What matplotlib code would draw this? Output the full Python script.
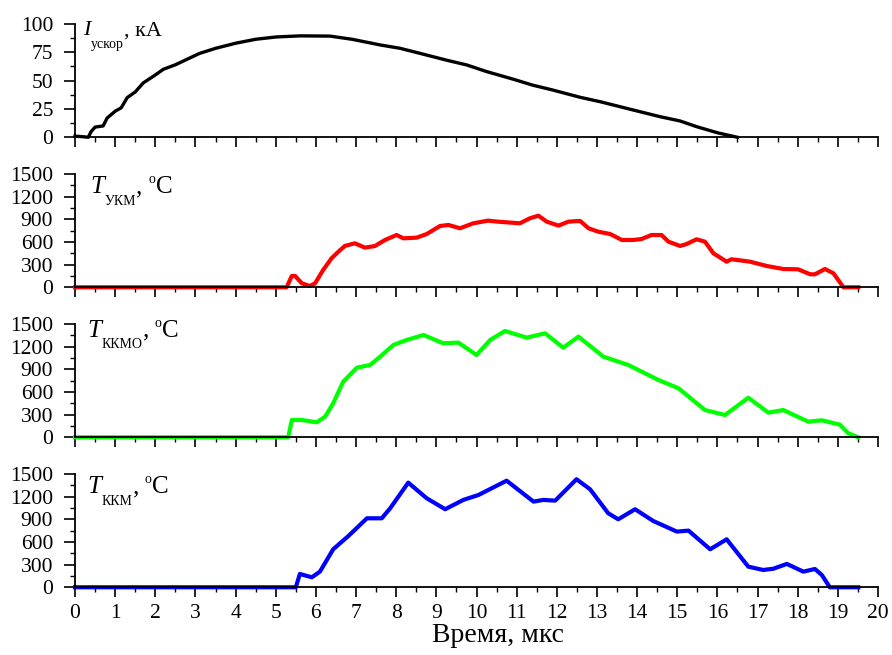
import matplotlib.pyplot as plt
from matplotlib.ticker import MultipleLocator

plt.rcParams['font.family'] = 'Liberation Serif'

# accelerating current, kA
t_I = [0, 0.2, 0.33, 0.4, 0.5, 0.7, 0.8, 1.0, 1.15, 1.3, 1.5, 1.7, 2.0, 2.2, 2.5, 2.8,
       3.1, 3.5, 4.0, 4.5, 5.0, 5.6, 6.35, 6.9, 7.6, 8.1, 8.6, 9.26, 9.76, 10.25, 10.92,
       11.4, 11.9, 12.58, 13.08, 13.9, 14.57, 15.07, 15.48, 16.0, 16.5]
I_acc = [1, 0.5, 0, 5, 9, 10, 17, 23, 26, 35, 40, 48, 55, 60, 64, 69,
         74, 78.5, 83, 86.5, 88.5, 89.5, 89.3, 86.5, 81.5, 78.5, 74, 68, 63.8, 58, 51.2,
         46, 41.7, 35.3, 31.4, 24.1, 18.2, 14.4, 9.4, 4, 0]

# T UKM
t_U = [0, 5.27, 5.40, 5.48, 5.65, 5.85, 5.98, 6.18, 6.39, 6.56, 6.72, 6.97, 7.22, 7.47,
       7.72, 8.01, 8.18, 8.51, 8.76, 9.09, 9.3, 9.59, 9.92, 10.29, 10.5, 11.08, 11.33,
       11.54, 11.75, 12.04, 12.29, 12.58, 12.79, 13.03, 13.33, 13.62, 13.9, 14.11, 14.36,
       14.61, 14.78, 15.07, 15.23, 15.48, 15.69, 15.9, 16.23, 16.35, 16.6, 16.81, 17.23,
       17.64, 18.01, 18.31, 18.43, 18.68, 18.89, 19.14, 19.51]
T_U = [0, 0, 150, 150, 53, 17, 53, 229, 384, 471, 547, 582, 525, 546,
       626, 692, 648, 657, 705, 811, 825, 781, 847, 882, 870, 847, 913,
       948, 869, 816, 869, 878, 781, 736, 705, 626, 626, 639, 692,
       692, 604, 547, 572, 635, 604, 450, 339, 371, 354, 339, 282,
       242, 238, 172, 172, 242, 185, 0, 0]

# T KKMO
t_K = [0, 5.31, 5.4, 5.65, 6.02, 6.23, 6.43, 6.68, 7.02, 7.35, 7.6, 7.93, 8.26, 8.68,
       9.17, 9.55, 10.0, 10.34, 10.71, 11.25, 11.71, 12.16, 12.54, 13.16, 13.78, 14.53,
       15.03, 15.69, 16.19, 16.77, 17.27, 17.64, 18.26, 18.6, 19.05, 19.26, 19.51]
T_K = [0, 0, 229, 229, 198, 273, 450, 736, 922, 957, 1067, 1222, 1288, 1354,
       1244, 1253, 1090, 1288, 1407, 1319, 1376, 1186, 1332, 1067, 957, 759,
       649, 361, 295, 524, 326, 361, 207, 225, 167, 53, 0]

# T KKM
t_M = [0, 5.5, 5.6, 5.9, 6.1, 6.43, 6.81, 7.27, 7.64, 7.85, 8.3, 8.76, 9.22, 9.67, 10.05,
       10.75, 11.42, 11.66, 11.96, 12.49, 12.83, 13.28, 13.53, 13.95, 14.4, 14.99, 15.28,
       15.82, 16.23, 16.77, 17.14, 17.39, 17.73, 18.14, 18.43, 18.6, 18.8, 19.51]
T_M = [0, 0, 176, 132, 207, 503, 679, 913, 913, 1046, 1385, 1178, 1033, 1156, 1222,
       1411, 1134, 1156, 1147, 1430, 1297, 980, 900, 1033, 878, 737, 750,
       503, 635, 273, 229, 245, 309, 207, 242, 163, 0, 0]

fig = plt.figure(figsize=(8.92, 6.55), dpi=100)
renderer = fig.canvas.get_renderer()

left, width, height = 0.0841, 0.9002, 0.173
bottoms = [0.7904, 0.5614, 0.3324, 0.1034]

# label pieces: (text, size, style, dy in points, gap after in points)
lab_I = [('I', 16, 'italic', 0, 0.5), ('ускор', 10, 'normal', -9, 0), (', кА', 16, 'normal', 0, 0)]
lab_U = [('T', 18, 'italic', 0, 0.5), ('УКМ', 10, 'normal', -8.4, 0), (',', 18, 'normal', 0, 4),
         ('o', 10, 'normal', 7, 0.5), ('C', 18, 'normal', 0, 0)]
lab_K = [('T', 18, 'italic', 0, 0.5), ('ККМО', 10, 'normal', -8.4, 0), (',', 18, 'normal', 0, 4),
         ('o', 10, 'normal', 7, 0.5), ('C', 18, 'normal', 0, 0)]
lab_M = [('T', 18, 'italic', 0, 0.5), ('ККМ', 10, 'normal', -8.4, 0), (',', 18, 'normal', 0, 4),
         ('o', 10, 'normal', 7, 0.5), ('C', 18, 'normal', 0, 0)]

panels = [
    (t_I, I_acc, 'black', 2.4, 100, 25, lab_I, 0.010, 0.90),
    (t_U, T_U, '#ff0000', 3.0, 1500, 300, lab_U, 0.019, 0.832),
    (t_K, T_K, '#00ff00', 3.0, 1500, 300, lab_K, 0.015, 0.888),
    (t_M, T_M, '#0000ff', 3.0, 1500, 300, lab_M, 0.015, 0.83),
]


def put_label(ax, parts, x, y):
    dx = 0.0
    for txt, fs, st, dy, gap in parts:
        t = ax.annotate(txt, (x, y), xycoords='axes fraction', xytext=(dx, dy),
                        textcoords='offset points', fontsize=fs, style=st,
                        ha='left', va='baseline')
        w = t.get_window_extent(renderer).width * 72.0 / fig.dpi
        dx += w + gap


axes = []
for k, (tx, ty, col, lw, ymax, ystep, lab, lx, ly) in enumerate(panels):
    ax = fig.add_axes([left, bottoms[k], width, height])
    ax.plot(tx, ty, color=col, linewidth=lw, solid_joinstyle='round', clip_on=False)
    ax.set_xlim(0, 20)
    ax.set_ylim(0, ymax)
    ax.xaxis.set_major_locator(MultipleLocator(1))
    ax.xaxis.set_minor_locator(MultipleLocator(0.5))
    ax.yaxis.set_major_locator(MultipleLocator(ystep))
    ax.yaxis.set_minor_locator(MultipleLocator(ystep / 2))
    ax.spines['top'].set_visible(False)
    ax.spines['right'].set_visible(False)
    ax.spines['left'].set_linewidth(1.3)
    ax.spines['bottom'].set_linewidth(1.3)
    ax.tick_params(which='major', direction='out', width=1.2, labelsize=15.5)
    ax.tick_params(axis='y', which='major', length=8, pad=7.7)
    ax.tick_params(axis='x', which='major', length=7, pad=5)
    ax.tick_params(which='minor', direction='out', length=3.5, width=1.0)
    if k < 3:
        ax.tick_params(axis='x', labelbottom=False)
    put_label(ax, lab, lx, ly)
    axes.append(ax)

axes[-1].set_xlabel('Время, мкс', fontsize=20)
axes[-1].xaxis.set_label_coords(0.527, -0.315)

fig.savefig('out.png', dpi=100)
